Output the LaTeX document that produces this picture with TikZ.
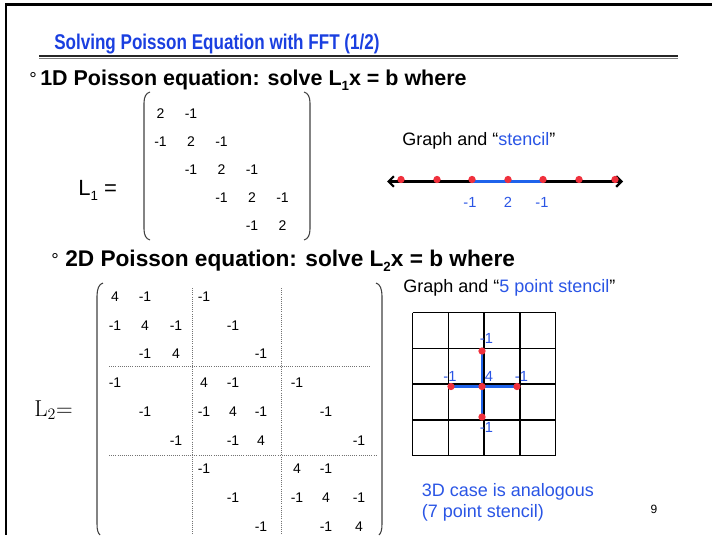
\documentclass[tikz,border=0pt]{standalone}
\usepackage[no-math]{fontspec}
\setmainfont{Liberation Sans}
\newfontfamily\narrowsf[FakeStretch=0.8]{Liberation Sans}
\usetikzlibrary{arrows.meta}
\definecolor{ink}{HTML}{000000}
\definecolor{titleblue}{HTML}{1A3FE0}
\definecolor{textblue}{HTML}{2A55E5}
\definecolor{dotred}{HTML}{F0303C}
\definecolor{stencilblue}{HTML}{1F63EB}
\newcommand\lowsub[1]{\raisebox{-0.45ex}{\fontsize{10}{11}\selectfont #1}}
\tikzset{
  headline/.style={inner sep=0pt, anchor=base west, text=titleblue,
    font=\narrowsf\bfseries\fontsize{16}{19}\selectfont},
  bullet/.style={inner sep=0pt, anchor=base west, text=ink,
    font=\fontsize{14}{16}\selectfont},
  point/.style={inner sep=0pt, anchor=base west, text=ink,
    font=\bfseries\fontsize{16.1}{19}\selectfont},
  lhs/.style={inner sep=0pt, anchor=base west, text=ink,
    font=\fontsize{16.5}{19}\selectfont},
  entry/.style={inner sep=0pt, text=ink, font=\fontsize{10.5}{12}\selectfont},
  graphtxt/.style={inner sep=0pt, anchor=base west, text=ink,
    font=\fontsize{13.5}{16}\selectfont},
  lbl/.style={inner sep=0pt, text=textblue, font=\fontsize{11}{13}\selectfont},
  %
  paren/.style={draw=black!75, line width=0.8pt},
  blocksep/.style={draw=black!55, densely dotted, line width=0.6pt},
  axis/.style={draw=black, line width=1.6pt,
    {Straight Barb[length=4pt,width=8pt]}-{Straight Barb[length=4pt,width=8pt]}},
  stencil/.style={draw=stencilblue, line width=2.2pt},
  dot/.style={circle, fill=dotred, inner sep=0pt, minimum size=5.5pt},
  gridline/.style={draw=black, line width=1.1pt},
}

\begin{document}
\begin{tikzpicture}[x=0.75pt, y=-0.75pt]
  \useasboundingbox (0,0) rectangle (712,535);

  % slide frame and title
  \draw[line width=1.8pt] (5,4.5) -- (712,4.5);
  \draw[line width=1.8pt] (6,3.6) -- (6,535);
  \node[headline] (title) at (54,50) {Solving Poisson Equation with FFT (1/2)};
  \draw[line width=1.4pt, black!85] (39,56) -- (678,56);
  \draw[line width=0.9pt, black!50] (39,58.6) -- (678,58.6);

  % 1D case
  \node[bullet] (bul1) at (29,85) {°};
  \node[point] (pt1) at (40,85) {1D Poisson equation: solve L\lowsub{1}x = b where};
  \node[lhs] (lone) at (78,195) {L\lowsub{1} =};

  \draw[paren] (150,92) .. controls (146,93) and (144,97) .. (144,103)
    -- (144,229) .. controls (144,235) and (146,239) .. (150,240);
  \draw[paren] (304,92) .. controls (308,93) and (310,97) .. (310,103)
    -- (310,229) .. controls (310,235) and (308,239) .. (304,240);

  \foreach \r in {1,...,5}
    \node[entry] (a\r-\r) at ({130+30.5*\r},{85+28.2*\r}) {2};
  \foreach \r [evaluate=\r as \s using int(\r+1)] in {1,...,4} {
    \node[entry] (a\r-\s) at ({130+30.5*\s},{85+28.2*\r}) {-1};
    \node[entry] (a\s-\r) at ({130+30.5*\r},{85+28.2*\s}) {-1};
  }

  \node[graphtxt] (graph1) at (402,145)
    {Graph and “\textcolor{textblue}{stencil}”};
  \coordinate (axl) at (387,181.5);
  \coordinate (axr) at (623,181.5);
  \draw[axis] (axl) -- (axr);
  \foreach \i/\x in {1/401, 2/437, 3/472, 4/508, 5/543, 6/579, 7/615}
    \coordinate (d\i) at (\x,181.5);
  \draw[stencil] (d3) -- (d5);
  \foreach \i in {1,...,7}
    \node[dot] (n\i) at ([yshift=1.5pt]d\i) {};
  \node[lbl] (w1) at (470,202) {-1};
  \node[lbl] (w2) at (508,202) {2};
  \node[lbl] (w3) at (542,202) {-1};

  % 2D case
  \node[bullet] (bul2) at (51,266) {°};
  \node[point, font=\bfseries\fontsize{17}{20}\selectfont] (pt2) at (65,266)
    {2D Poisson equation: solve L\lowsub{2}x = b where};
  \node[lhs, font=\fontsize{17}{20}\selectfont] (ltwo) at (34,416) {$\mathrm{L}_2{=}$};

  \draw[paren] (103,283) .. controls (99,284) and (97,289) .. (97,296)
    -- (97,524) .. controls (97,530) and (98,533) .. (100,535);
  \draw[paren] (376,283) .. controls (380,284) and (382,289) .. (382,296)
    -- (382,524) .. controls (382,530) and (381,533) .. (379,535);

  \draw[blocksep] (192.7,288) -- (192.7,535);
  \draw[blocksep] (281.7,288) -- (281.7,535);
  \draw[blocksep] (109,366) -- (371,366);
  \draw[blocksep] (109,455) -- (376,455);

  \def\colx{{115,145,176,204,233,261,297,326,359}}
  \foreach \r in {1,...,9} {
    \pgfmathsetmacro\xx{\colx[\r-1]}
    \node[entry] (b\r-\r) at (\xx,{268+28.7*\r}) {4};
  }
  \foreach \a/\b in {1/2,2/3,4/5,5/6,7/8,8/9,1/4,2/5,3/6,4/7,5/8,6/9} {
    \pgfmathsetmacro\xa{\colx[\a-1]}
    \pgfmathsetmacro\xb{\colx[\b-1]}
    \node[entry] (b\a-\b) at (\xb,{268+28.7*\a}) {-1};
    \node[entry] (b\b-\a) at (\xa,{268+28.7*\b}) {-1};
  }

  \node[graphtxt] (graph2) at (403,292)
    {Graph and “\textcolor{textblue}{5 point stencil}”};

  % 5 point stencil on the grid
  \foreach \k in {0,...,4} {
    \draw[gridline] ({412.7+35.75*\k},312.7) -- ({412.7+35.75*\k},455.7);
    \draw[gridline] (412.7,{312.7+35.75*\k}) -- (555.7,{312.7+35.75*\k});
  }
  \coordinate (sn) at (482,351);
  \coordinate (sw) at (451,386.5);
  \coordinate (sc) at (482,386.5);
  \coordinate (se) at (517,386.5);
  \coordinate (ss) at (482,417);
  \draw[stencil] (sw) -- (se);
  \draw[stencil] (sn) -- (ss);
  \foreach \p in {sn, sw, sc, se, ss}
    \node[dot] (dot\p) at (\p) {};
  \node[lbl] (vn) at (486.5,338) {-1};
  \node[lbl] (vw) at (450,376) {-1};
  \node[lbl] (vc) at (489,376) {4};
  \node[lbl] (ve) at (521.5,376) {-1};
  \node[lbl] (vs) at (486.5,427) {-1};

  \node[graphtxt, text=textblue, align=left, anchor=north west] (note) at (421.5,483)
    {3D case is analogous\\(7 point stencil)};
  \node[inner sep=0pt, font=\fontsize{9}{11}\selectfont] (pageno) at (654,509) {9};
\end{tikzpicture}
\end{document}
